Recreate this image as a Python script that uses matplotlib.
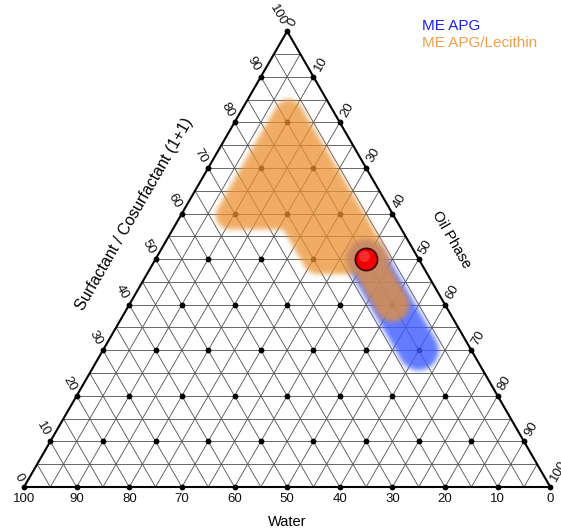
import numpy as np
import matplotlib
matplotlib.use('Agg')
import matplotlib.pyplot as plt
from matplotlib.patches import Polygon

plt.rcParams['font.family'] = ['Liberation Sans', 'DejaVu Sans']

# ---- data (ternary %: S = surfactant/cosurfactant, O = oil phase, W = water) ----
ticks = list(range(0, 101, 10))
grid_steps = list(range(5, 100, 5))

# core of the ME APG/Lecithin area (rounded outwards when drawn)
orange_core_S = [82.0, 59.6, 59.6, 49.8, 49.8]
orange_core_O = [9.3, 9.3, 21.0, 30.8, 41.9]
orange_band_S = [50, 40]
orange_band_O = [40, 50]
# ME APG area
blue_band_S = [50, 30]
blue_band_O = [40, 60]
# selected formulation
point_S = [50]
point_O = [40]

legend_labels = ['ME APG', 'ME APG/Lecithin']
legend_colors = ['#1e1ef0', '#f0a04b']

# ---- geometry ----
W_PX, H_PX = 561, 529
SIDE = 526.3          # px per unit triangle side
X0, Y0 = 24, 42       # bottom-left corner, px from lower-left of figure
xlim = (-X0 / SIDE, (W_PX - X0) / SIDE)
ylim = (-Y0 / SIDE, (H_PX - Y0) / SIDE)
PT = 0.72             # points per pixel at dpi 100


def tern(S, O):
    S = np.asarray(S, float)
    O = np.asarray(O, float)
    return O / 100 + S / 200, S / 100 * np.sqrt(3) / 2


def new_axes(fig):
    ax = fig.add_axes([0, 0, 1, 1])
    ax.set_xlim(xlim)
    ax.set_ylim(ylim)
    ax.axis('off')
    return ax


def blur(a, s):
    r = int(3 * s)
    k = np.exp(-np.arange(-r, r + 1) ** 2 / (2.0 * s * s))
    k /= k.sum()
    a = np.apply_along_axis(lambda m: np.convolve(m, k, mode='same'), 0, a)
    a = np.apply_along_axis(lambda m: np.convolve(m, k, mode='same'), 1, a)
    return a


def region_mask(polys, bands):
    f = plt.figure(figsize=(W_PX / 100, H_PX / 100), dpi=100)
    a = new_axes(f)
    for S, O, r in polys:
        x, y = tern(S, O)
        a.add_patch(Polygon(np.c_[x, y], closed=True, fc='k', ec='k',
                            lw=2 * r * PT, joinstyle='round'))
    for S, O, r in bands:
        x, y = tern(S, O)
        a.plot(x, y, color='k', lw=2 * r * PT, solid_capstyle='round')
    f.canvas.draw()
    buf = np.asarray(f.canvas.buffer_rgba())[..., 0] / 255.0
    plt.close(f)
    return blur(1 - buf, 2.5)


def show_mask(ax, mask, color, alpha, z):
    img = np.zeros(mask.shape + (4,))
    img[..., :3] = matplotlib.colors.to_rgb(color)
    img[..., 3] = np.clip(mask, 0, 1) * alpha
    ax.imshow(img, extent=(xlim[0], xlim[1], ylim[0], ylim[1]),
              origin='upper', interpolation='nearest', zorder=z)


fig = plt.figure(figsize=(W_PX / 100, H_PX / 100), dpi=100)
ax = new_axes(fig)

# grid every 5 %
for v in grid_steps:
    for S, O in (([v, v], [0, 100 - v]),            # constant S
                 ([0, 100 - v], [v, v]),            # constant O
                 ([0, 100 - v], [100 - v, 0])):     # constant W
        x, y = tern(S, O)
        ax.plot(x, y, color='#505050', lw=0.6, zorder=1)

# dots every 10 %
dS, dO = [], []
for s in ticks:
    for o in ticks:
        if s + o <= 100:
            dS.append(s)
            dO.append(o)
x, y = tern(dS, dO)
ax.plot(x, y, 'o', color='black', ms=4.2, mew=0, zorder=2)

# shaded regions
blue = region_mask([], [(blue_band_S, blue_band_O, 20)])
show_mask(ax, blue, '#3c5aff', 0.8, 3)
orange = region_mask([(orange_core_S, orange_core_O, 14)],
                     [(orange_band_S, orange_band_O, 17)])
show_mask(ax, orange, '#eb9132', 0.75, 4)
ax.set_xlim(xlim)
ax.set_ylim(ylim)
ax.set_aspect('auto')

# frame
x, y = tern([0, 0, 100, 0], [0, 100, 0, 0])
ax.plot(x, y, color='black', lw=1.5, zorder=5, solid_joinstyle='miter')

# tick labels
d = 7 * PT
lx, ly = -0.5 * d, 0.866 * d
for v in ticks:
    x, y = tern(v, 0)
    ax.annotate(str(v), (x, y), xytext=(lx, ly), textcoords='offset points',
                rotation=-60, ha='right', va='center', rotation_mode='anchor',
                fontsize=9.5, color='#111111')
    x, y = tern(100 - v, v)
    ax.annotate(str(v), (x, y), xytext=(-lx, ly), textcoords='offset points',
                rotation=60, ha='left', va='center', rotation_mode='anchor',
                fontsize=9.5, color='#111111')
    x, y = tern(0, 100 - v)
    ax.annotate(str(v), (x, y), xytext=(0, -9), textcoords='offset points',
                ha='center', va='center', fontsize=9.5, color='#111111')

# axis titles
x, y = tern(0, 50)
ax.annotate('Water', (x, y), xytext=(0, -25.5), textcoords='offset points',
            ha='center', va='center', fontsize=10.5)
x, y = tern(50, 0)
ax.annotate('Surfactant / Cosurfactant (1+1)', (x, y), xytext=(-15.5, 32.5),
            textcoords='offset points', rotation=60, ha='center', va='center',
            rotation_mode='anchor', fontsize=11.5)
x, y = tern(50, 50)
ax.annotate('Oil Phase', (x, y), xytext=(23.3, 14.3), textcoords='offset points',
            rotation=-60, ha='center', va='center', rotation_mode='anchor',
            fontsize=10.5)

# selected point
x, y = tern(point_S, point_O)
ax.plot(x, y, 'o', ms=16, mfc='#f00000', mec='#3a0000', mew=1.2, zorder=7)
ax.plot(x, y, 'o', ms=8, mfc='#ff4a4a', mew=0, alpha=0.6, zorder=8,
        transform=ax.transData + matplotlib.transforms.ScaledTranslation(
            -1.5 / 72, 2 / 72, fig.dpi_scale_trans))

# legend text
for i, (lab, col) in enumerate(zip(legend_labels, legend_colors)):
    fig.text(422 / W_PX, 1 - (30 + 17 * i) / H_PX, lab, color=col,
             fontsize=11, va='baseline', ha='left')

fig.savefig('out.png', dpi=100)
